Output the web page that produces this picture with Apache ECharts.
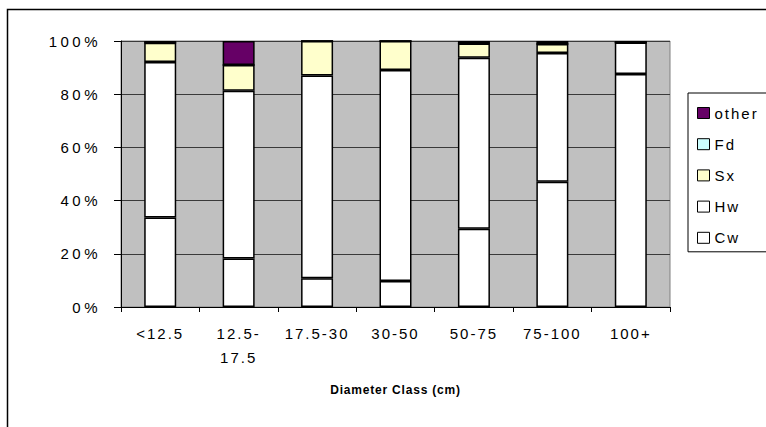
<!DOCTYPE html>
<html>
<head>
<meta charset="utf-8">
<script src="https://cdn.jsdelivr.net/npm/echarts@6/dist/echarts.min.js"></script>
<style>
  html, body { margin: 0; padding: 0; background: #fff; }
  #chart { width: 766px; height: 427px; }
  /* spaced-out lettering of the axis and legend text */
  #chart text { letter-spacing: 2px; }
  #chart text[text-anchor="end"] { letter-spacing: 3.5px; }
  #chart text[style*="bold"], #chart text[font-weight="bold"] { letter-spacing: 0.8px; }
</style>
</head>
<body>
<div id="chart"></div>
<script>
// Species share (%) by diameter class
const categories = ['<12.5', '12.5-\n17.5', '17.5-30', '30-50', '50-75', '75-100', '100+'];
const cw    = [33.6, 18.2, 10.8,  9.8, 29.4, 47.1, 87.6];
const hw    = [58.5, 63.1, 76.2, 79.3, 64.3, 48.4, 11.8];
const sx    = [ 7.2,  9.7, 13.0, 10.9,  5.4,  3.4,  0.0];
const fd    = [ 0.0,  0.0,  0.0,  0.0,  0.0,  0.0,  0.0];
const other = [ 0.7,  9.0,  0.0,  0.0,  0.9,  1.1,  0.6];
const yTicks = [0, 20, 40, 60, 80, 100];

const FONT = '"Liberation Sans", Arial, sans-serif';

const seriesDefs = [
  { name: 'Cw', data: cw, color: '#FFFFFF' },
  { name: 'Hw', data: hw, color: '#FFFFFF' },
  { name: 'Sx', data: sx, color: '#FFFFCC' },
  { name: 'Fd', data: fd, color: '#CCFFFF' },
  { name: 'other', data: other, color: '#660066' }
];

const chart = echarts.init(document.getElementById('chart'), null, { renderer: 'svg' });

chart.setOption({
  animation: false,
  backgroundColor: '#ffffff',
  graphic: [{
    type: 'rect',
    shape: { x: 7.5, y: 9.5, width: 800, height: 450 },
    style: { fill: 'none', stroke: '#000', lineWidth: 1.5 },
    z: 0
  }],
  grid: {
    left: 121, top: 41, width: 549, height: 266,
    show: true, backgroundColor: '#C0C0C0',
    borderColor: '#808080', borderWidth: 1
  },
  legend: {
    orient: 'vertical',
    left: 688, top: 93,
    padding: [12, 30, 6, 9],
    itemWidth: 12, itemHeight: 11, itemGap: 15.2,
    backgroundColor: '#ffffff',
    borderColor: '#000', borderWidth: 1,
    icon: 'rect',
    data: ['other', 'Fd', 'Sx', 'Hw', 'Cw'],
    textStyle: { fontFamily: FONT, fontSize: 15, color: '#000', lineHeight: 16 },
    itemStyle: { borderColor: '#000', borderWidth: 1 }
  },
  xAxis: {
    type: 'category',
    data: categories,
    name: 'Diameter Class (cm)',
    nameLocation: 'middle',
    nameGap: 77,
    nameTextStyle: { fontFamily: FONT, fontSize: 12, fontWeight: 'bold', color: '#000' },
    axisLine: { lineStyle: { color: '#000', width: 1 } },
    axisTick: { show: true, length: 5, lineStyle: { color: '#000' } },
    axisLabel: {
      fontFamily: FONT, fontSize: 15, color: '#000',
      lineHeight: 24, margin: 14, interval: 0
    },
    splitLine: { show: false }
  },
  yAxis: {
    type: 'value',
    min: yTicks[0], max: yTicks[yTicks.length - 1], interval: 20,
    axisLine: { show: true, lineStyle: { color: '#000', width: 1 } },
    axisTick: { show: true, length: 7, lineStyle: { color: '#000' } },
    axisLabel: {
      fontFamily: FONT, fontSize: 15, color: '#000', margin: 20,
      formatter: '{value}%'
    },
    splitLine: { show: true, lineStyle: { color: '#3a3a3a', width: 1 } }
  },
  series: seriesDefs.map(s => ({
    name: s.name,
    type: 'bar',
    stack: 'total',
    data: s.data,
    barWidth: 32,
    itemStyle: { color: s.color, borderColor: '#000', borderWidth: 1.5 },
    emphasis: { disabled: true }
  }))
});
</script>
</body>
</html>
